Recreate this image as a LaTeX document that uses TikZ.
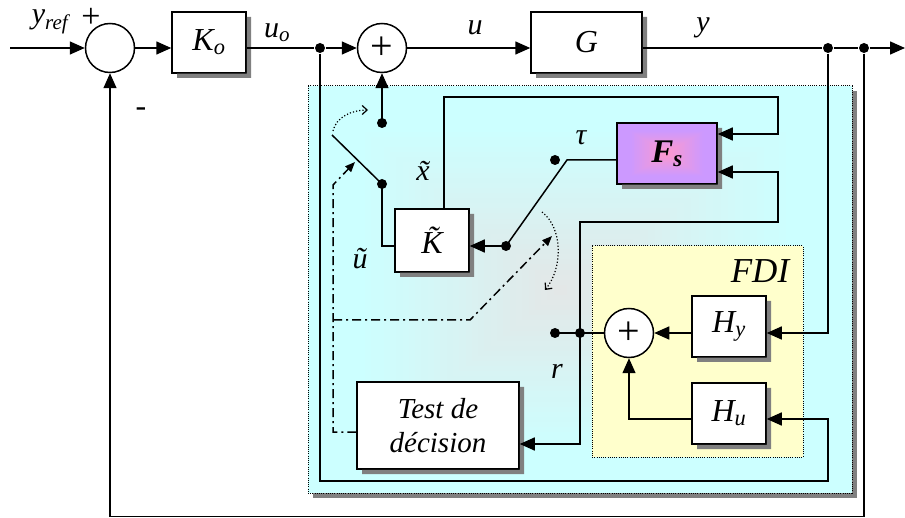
\documentclass[tikz,border=0pt]{standalone}
\usepackage{fontspec}
\setmainfont{Liberation Serif}
\usetikzlibrary{arrows.meta,calc}
\definecolor{cyanbg}{HTML}{CCFFFF}
\definecolor{cyanmid}{HTML}{E4E6E6}
\definecolor{fdiyel}{HTML}{FFFFCC}
\definecolor{fspur}{HTML}{CC99FF}
\definecolor{fspink}{HTML}{FF99CC}
\definecolor{shad}{rgb}{0.5,0.5,0.5}
\begin{document}
\begin{tikzpicture}[x=1pt,y=-1pt,
  line width=1.5pt,
  >={Triangle[length=15pt,width=13pt]},
  sm/.style={-{Triangle[length=10pt,width=8pt]}},
  op/.style={-{Straight Barb[length=5pt,width=9pt]}},
  blk/.style={draw,fill=white,font=\fontsize{32}{36}\selectfont\itshape,inner sep=0pt},
  shadowfill/.style={fill=shad,draw=none},
  sumnode/.style={draw,circle,minimum size=49pt,inner sep=0pt,fill=white,font=\fontsize{40}{40}\selectfont},
  lab/.style={font=\fontsize{30}{34}\selectfont\itshape,inner sep=0pt},
  dot/.style={circle,fill=black,minimum size=10pt,inner sep=0pt},
  dd/.style={dash pattern=on 9pt off 4pt on 2pt off 4pt},
  arcdot/.style={line width=1.2pt,dash pattern=on 1.2pt off 2pt},
  boxdot/.style={line width=1pt,dash pattern=on 1pt off 1.2pt}
]
\useasboundingbox (0,0) rectangle (905,518);
\fill[white] (0,0) rectangle (905,518);
% supervision box: shadow and stepped radial-like gradient
\fill[shad] (313,91) rectangle (857,498);
\foreach \i in {0,...,40}{
  \pgfmathsetmacro\t{1-\i/40}
  \pgfmathtruncatemacro\p{max(0,100*(1-\t/0.8))}
  \fill[cyanmid!\p!cyanbg] ({560-252*\t},{290-204*\t}) rectangle ({560+292*\t},{290+203*\t});
}
\draw[boxdot] (308,86) rectangle (852,493);
% FDI box
\fill[fdiyel] (592,246) rectangle (803,457);
\draw[boxdot] (592,246) rectangle (803,457);

% F_s gradient fill
\foreach \i in {0,...,30}{
  \pgfmathsetmacro\t{1-\i/30}
  \pgfmathtruncatemacro\p{max(0,100*(1-\t/0.75))}
  \fill[fspink!\p!fspur] ({667-50*\t},{153.5-30.5*\t}) rectangle ({667+50*\t},{153.5+30.5*\t});
}

\node[lab,font=\fontsize{35}{38}\selectfont\itshape] (fdi) at (760,271) {FDI};

% blocks
\node[sumnode] (S1) at (110,48) {};
\node[blk,minimum width=74pt,minimum height=61pt] (Ko) at (209,42.5) {K\textsubscript{o}};
\node[sumnode] (S2) at (382,48) {+};
\node[blk,minimum width=111pt,minimum height=61pt] (G) at (586.5,42.5) {G};
\node[sumnode] (S3) at (629,333) {+};
\node[blk,minimum width=74pt,minimum height=61pt] (Hy) at (729,326.5) {H\textsubscript{y}};
\node[blk,minimum width=74pt,minimum height=61pt] (Hu) at (729,413.5) {H\textsubscript{u}};
\node[blk,minimum width=74pt,minimum height=63pt] (Kt) at (432,240.5) {\~{K}};
\node[blk,minimum width=162pt,minimum height=87pt,font=\fontsize{29}{35}\selectfont\itshape,align=center] (Test) at (438,425.5) {Test de\\[-1pt]décision};
\node[draw,minimum width=100pt,minimum height=61pt,inner sep=0pt,font=\fontsize{33}{36}\selectfont\bfseries\itshape] (Fs) at (667,153.5) {F\textsubscript{s}};

% block shadows: L-shaped strips just outside each block
\path[shadowfill] (246.75,17) -- (251,17) -- (251,78) -- (177,78) -- (177,73.75) -- (246.75,73.75) -- cycle;
\path[shadowfill] (642.75,17) -- (647,17) -- (647,78) -- (536,78) -- (536,73.75) -- (642.75,73.75) -- cycle;
\path[shadowfill] (766.75,301) -- (771,301) -- (771,362) -- (697,362) -- (697,357.75) -- (766.75,357.75) -- cycle;
\path[shadowfill] (766.75,388) -- (771,388) -- (771,449) -- (697,449) -- (697,444.75) -- (766.75,444.75) -- cycle;
\path[shadowfill] (469.75,214) -- (474,214) -- (474,277) -- (400,277) -- (400,272.75) -- (469.75,272.75) -- cycle;
\path[shadowfill] (519.75,387) -- (524,387) -- (524,474) -- (362,474) -- (362,469.75) -- (519.75,469.75) -- cycle;
\path[shadowfill] (717.75,128) -- (722,128) -- (722,189) -- (622,189) -- (622,184.75) -- (717.75,184.75) -- cycle;

% main loop
\coordinate (yin) at (10,48);
\node[dot] (j1) at (320,48) {};
\node[dot] (j2) at (828,48) {};
\node[dot] (j3) at (864,48) {};
\coordinate (yout) at (905,48);

\draw[->] (yin) -- (S1);
\draw[->] (S1) -- (Ko.west |- S1);
\draw (Ko.east |- S1) -- (j1);
\draw[->] (j1) -- (S2);
\draw[->] (S2) -- (G.west |- S2);
\draw (G.east |- S2) -- (j2) -- (j3);
\draw[->] (j3) -- (yout);
\coordinate (fb1) at (864,516.5);
\coordinate (fb2) at (110,516.5);
\draw[->] (j3) -- (fb1) -- (fb2) -- (S1);

% y -> Hy
\coordinate (c1) at (828,333);
\draw[->] (j2) -- (c1) -- (Hy.east |- c1);
% u -> Hu
\coordinate (c2) at (320,481);
\coordinate (c3) at (828,481);
\coordinate (c4) at (828,419);
\draw[->] (j1) -- (c2) -- (c3) -- (c4) -- (Hu.east |- c4);
\draw[->] (Hy.west |- S3) -- (S3);
\draw[->] (Hu.west |- c4) -- (S3 |- c4) -- (S3);
% residual
\node[dot] (jr) at (580,333) {};
\node[dot] (tr) at (555,333) {};
\draw (S3) -- (jr.center) -- (tr.center);
\coordinate (c5) at (580,222);
\coordinate (c6) at (778,222);
\coordinate (c7) at (778,172);
\draw[->] (jr.center) -- (c5) -- (c6) -- (c7) -- (Fs.east |- c7);
\coordinate (c8) at (580,444);
\draw[->] (jr.center) -- (c8) -- (Test.east |- c8);
% x tilde
\coordinate (c9) at (444,97);
\coordinate (c10) at (778,97);
\coordinate (c11) at (778,134);
\draw[->] (Kt.north -| c9) -- (c9) -- (c10) -- (c11) -- (Fs.east |- c11);
% Fs output and switch
\coordinate (c12) at (567,160);
\node[dot] (piv) at (506,246) {};
\node[dot] (ttau) at (555,160) {};
\draw (Fs.west |- c12) -- (c12) -- (piv.center);
\draw[->] (piv.center) -- (Kt.east |- piv);
% K tilde to upper switch
\coordinate (c13) at (382,246);
\node[dot] (kx) at (382,184) {};
\node[dot] (ku) at (382,123) {};
\coordinate (bl) at (332,135);
\draw (Kt.west |- c13) -- (c13) -- (kx.center);
\draw (kx.center) -- (bl);
\draw[->] (ku.center) -- (S2);

% commands from decision test
\coordinate (d1) at (333,432);
\coordinate (d2) at (333,185);
\coordinate (d3) at (355,162);
\draw[dd,sm] (Test.west |- d1) -- (d1) -- (d2) -- (d3);
\coordinate (d4) at (333,320);
\coordinate (d5) at (470,320);
\coordinate (d6) at (552,236);
\draw[dd,sm] (d4) -- (d5) -- (d6);

% dotted switching arcs
\coordinate (a1) at (333,131);
\coordinate (a2) at (368,110);
\draw[arcdot,op] (a1) .. controls (336,117) and (352,110) .. (a2);
\coordinate (a3) at (542,212);
\coordinate (a4) at (545,290);
\draw[arcdot,op] (a3) .. controls (563,228) and (563,268) .. (a4);

% labels
\node[lab] (lyref) at (50,22) {y\textsubscript{ref}};
\node[inner sep=0pt,font=\fontsize{34}{34}\selectfont] (lplus) at (91,18) {+};
\node[inner sep=0pt,font=\fontsize{32}{32}\selectfont] (lminus) at (141,112) {-};
\node[lab] (luo) at (277,33) {u\textsubscript{o}};
\node[lab] (lu) at (475,28) {u};
\node[lab] (ly) at (703,28) {y};
\node[lab] (ltau) at (581,138) {τ};
\node[lab] (lxt) at (423,171) {\~{x}};
\node[lab] (lut) at (360,259) {\~{u}};
\node[lab] (lr) at (557,371) {r};
\end{tikzpicture}
\end{document}
